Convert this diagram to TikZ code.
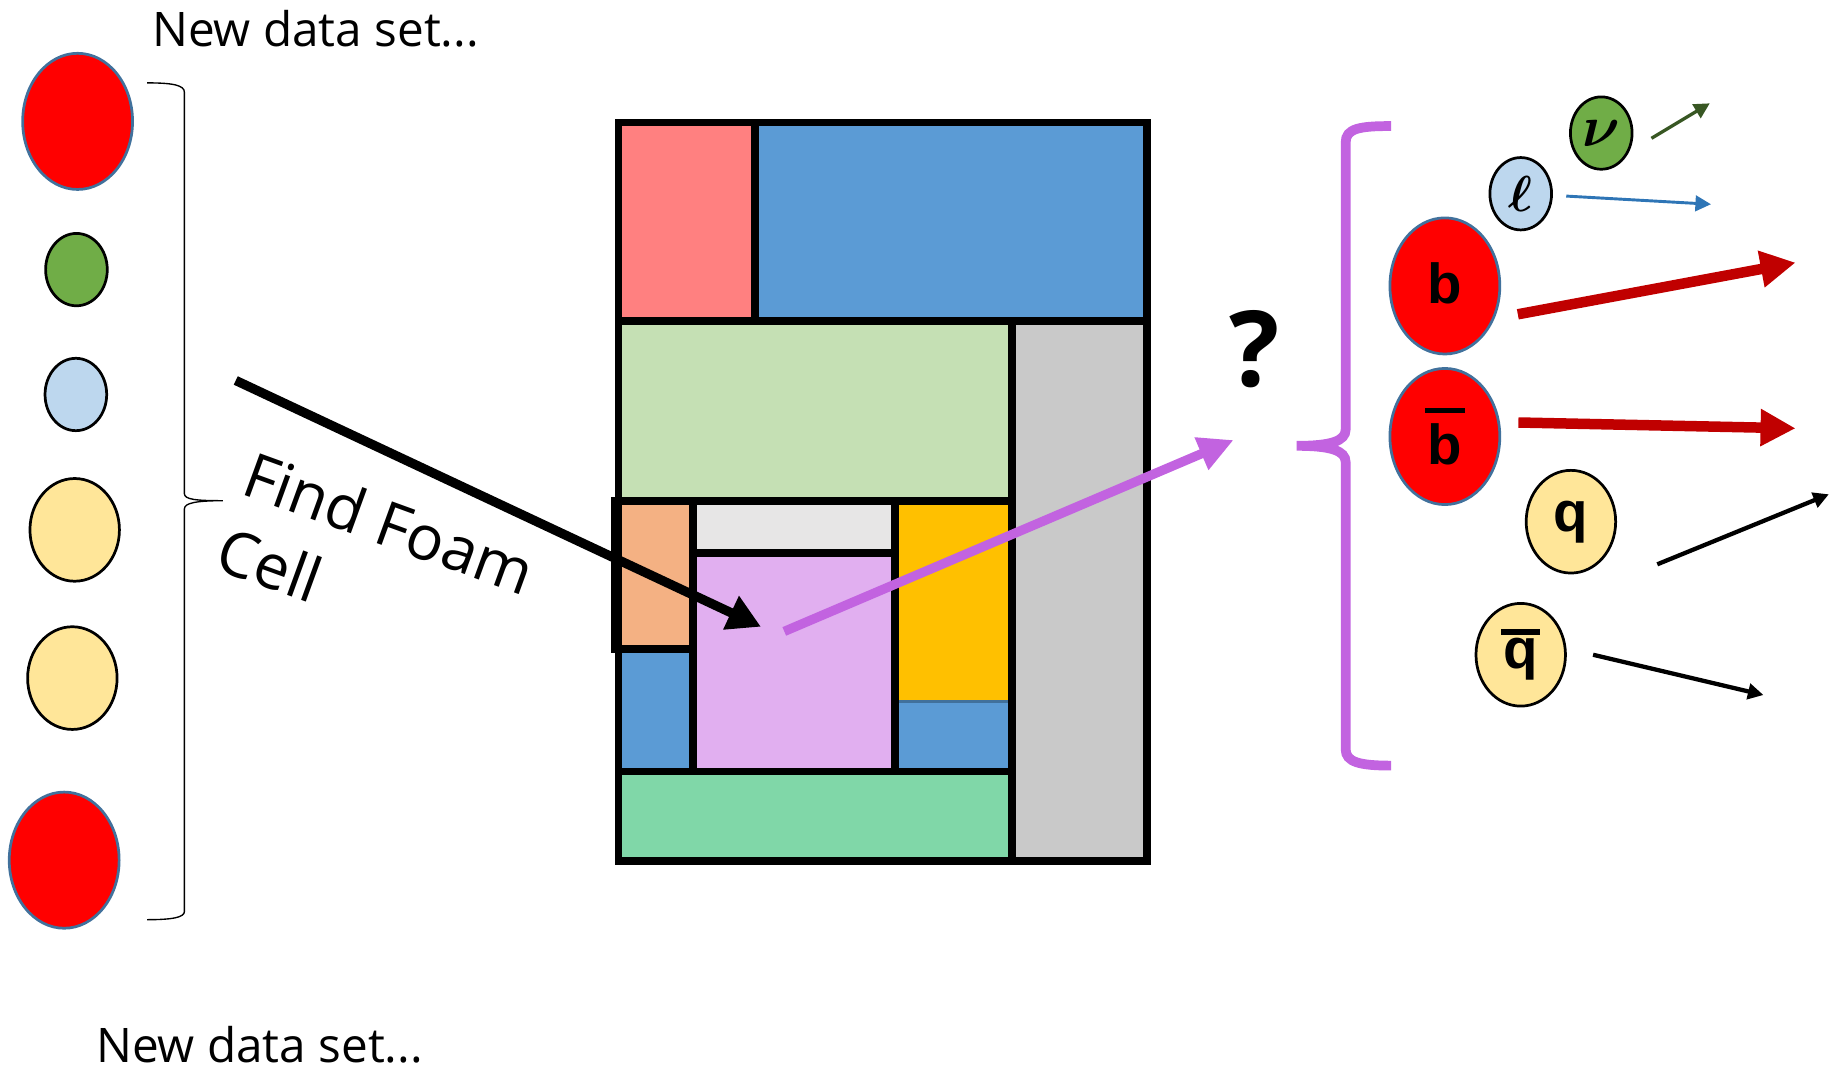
\RequirePackage{fix-cm}
\documentclass[tikz,border=0pt]{standalone}
\usepackage{fontspec}
\usepackage{bm}
\setmainfont{Open Sans}
\newfontfamily\quarkfont{Liberation Sans}
\usetikzlibrary{shapes.geometric, arrows.meta}

\definecolor{PartRed}{RGB}{255, 0, 0}
\definecolor{PartEdge}{RGB}{65, 113, 156}
\definecolor{PartGreen}{RGB}{112, 173, 71}
\definecolor{PartBlue}{RGB}{189, 215, 238}
\definecolor{PartYellow}{RGB}{255, 230, 153}
\definecolor{CellPink}{RGB}{255, 128, 128}
\definecolor{CellBlue}{RGB}{91, 155, 213}
\definecolor{CellGreen}{RGB}{197, 224, 180}
\definecolor{CellGray}{RGB}{201, 201, 201}
\definecolor{CellOrange}{RGB}{244, 177, 131}
\definecolor{CellSilver}{RGB}{231, 230, 230}
\definecolor{CellLilac}{RGB}{225, 175, 240}
\definecolor{CellGold}{RGB}{255, 192, 0}
\definecolor{CellMint}{RGB}{128, 215, 168}
\definecolor{CellEdge}{RGB}{90, 90, 90}
\definecolor{FoamPurple}{RGB}{194, 99, 224}
\definecolor{TrackRed}{RGB}{192, 0, 0}
\definecolor{TrackGreen}{RGB}{56, 87, 35}
\definecolor{TrackBlue}{RGB}{46, 117, 182}

% anti-quark bar over a letter
\newcommand{\barred}[2]{\ooalign{\hidewidth\rule[#1]{0.7em}{0.1em}\hidewidth\cr#2\cr}}

\begin{document}
\begin{tikzpicture}[x=0.6pt, y=-0.6pt,
    particle/.style={ellipse, inner sep=0pt, line width=1.4pt, draw=black},
    bigball/.style={particle, draw=PartEdge, minimum width=56.5pt, minimum height=70pt},
    smallball/.style={particle, minimum width=31.7pt, minimum height=37.2pt},
    midball/.style={particle, minimum width=46pt, minimum height=52.8pt},
    quark/.style={font=\quarkfont\bfseries\fontsize{29}{29}\selectfont},
    caption/.style={anchor=base west, inner sep=0pt, font=\fontsize{24.5}{29}\selectfont},
    cell/.style={draw=CellEdge, line width=0.6pt},
    wall/.style={line width=4pt, line cap=rect},
    track/.style={line width=2.2pt, -{Triangle[length=8pt, width=8pt]}},
    jet/.style={line width=5.4pt, TrackRed, -{Triangle[length=18pt, width=18pt]}}]

    \useasboundingbox (0,0) rectangle (1568,918);

    % Incoming data set
    \node[caption] (settop) at (130,40) {New data set...};
    \node[bigball, fill=PartRed] (ev1) at (66.5,104) {};
    \node[smallball, fill=PartGreen] (ev2) at (65.5,231) {};
    \node[smallball, fill=PartBlue] (ev3) at (65,338) {};
    \node[midball, fill=PartYellow] (ev4) at (64,454) {};
    \node[midball, fill=PartYellow] (ev5) at (62,581) {};
    \node[bigball, fill=PartRed] (ev6) at (55,737) {};
    \node[caption] (setbot) at (82,910) {New data set...};

    % Brace round the events
    \draw[line width=0.7pt] (126,71) .. controls (148,71) and (158,73) .. (158,79)
      -- (158,423) .. controls (158,428) and (168,429) .. (191,429)
      .. controls (168,429) and (158,431) .. (158,436)
      -- (158,781) .. controls (158,786) and (148,788) .. (126,788);

    % Foam cells
    \draw[cell, fill=CellPink] (530,105) rectangle (647,275);
    \draw[cell, fill=CellBlue] (647,105) rectangle (983,275);
    \draw[cell, fill=CellGreen] (530,275) rectangle (867,429);
    \draw[cell, fill=CellGray] (867,275) rectangle (983,738);
    \draw[cell, fill=CellOrange] (527,429) rectangle (594,556);
    \draw[cell, fill=CellBlue] (530,556) rectangle (594,661);
    \draw[cell, fill=CellSilver] (594,429) rectangle (767,474);
    \draw[cell, fill=CellLilac] (594,474) rectangle (767,661);
    \draw[cell, fill=CellGold] (767,429) rectangle (867,601);
    \draw[draw=PartEdge, line width=1.2pt, fill=CellBlue] (767,601) rectangle (867,661);
    \draw[cell, fill=CellMint] (530,661) rectangle (867,738);

    % Cell walls
    \draw[wall] (530,105) rectangle (983,738);
    \draw[wall] (530,275) -- (983,275);
    \draw[wall] (647,105) -- (647,275);
    \draw[wall] (867,275) -- (867,738);
    \draw[wall] (530,429) -- (867,429);
    \draw[wall] (527,429) rectangle (594,556);
    \draw[wall] (594,429) -- (594,661);
    \draw[wall] (767,429) -- (767,661);
    \draw[wall] (594,474) -- (767,474);
    \draw[wall] (530,661) -- (867,661);

    % Lookup of the cell
    \node[rotate=-20, anchor=north west, inner sep=0pt, align=left,
      font=\fontsize{32}{41}\selectfont] (find) at (219,384) {Find Foam\\Cell};
    \coordinate (find-s) at (202,326);
    \coordinate (find-e) at (652,537);
    \draw[line width=4.8pt, -{Triangle[length=17pt, width=18pt]}] (find-s) -- (find-e);

    \coordinate (draw-s) at (672,541);
    \coordinate (draw-e) at (1057,377);
    \draw[line width=4.8pt, FoamPurple, -{Triangle[length=18pt, width=17pt]}] (draw-s) -- (draw-e);

    \node[inner sep=0pt, font=\bfseries\fontsize{54}{54}\selectfont] (what) at (1075,299) {?};

    % Brace round the final state
    \draw[line width=5pt, FoamPurple] (1192,108) .. controls (1165,108) and (1153,110) .. (1153,122)
      -- (1153,368) .. controls (1153,378) and (1140,382) .. (1111,382)
      .. controls (1140,382) and (1153,386) .. (1153,396)
      -- (1153,642) .. controls (1153,653) and (1165,656) .. (1192,656);

    % Final state particles
    \node[smallball, fill=PartGreen, font=\fontsize{30}{30}\selectfont] (nu) at (1372,114) {$\bm{\nu}$};
    \node[smallball, fill=PartBlue, font=\fontsize{26}{26}\selectfont] (lep) at (1303,166) {$\bm{\ell}$};
    \node[bigball, fill=PartRed, quark] (b) at (1238,245) {\raisebox{3pt}{b}};
    \node[bigball, fill=PartRed, quark] (bbar) at (1238,374) {\barred{0.91em}{b}};
    \node[midball, fill=PartYellow, quark] (q) at (1346,447) {q};
    \node[midball, fill=PartYellow, quark] (qbar) at (1303,561) {\barred{0.6em}{q}};

    \coordinate (nu-s) at (1415,118.5);
    \coordinate (nu-e) at (1465,88.5);
    \coordinate (lep-s) at (1342,168);
    \coordinate (lep-e) at (1466,175);
    \coordinate (b-s) at (1300.5,269.3);
    \coordinate (b-e) at (1538.5,225);
    \coordinate (bbar-s) at (1301,362);
    \coordinate (bbar-e) at (1538.5,367);
    \coordinate (q-s) at (1420,483.5);
    \coordinate (q-e) at (1567,423.5);
    \coordinate (qbar-s) at (1365,561);
    \coordinate (qbar-e) at (1511,595.5);

    \draw[track, line width=1.7pt, TrackGreen] (nu-s) -- (nu-e);
    \draw[track, line width=1.5pt, TrackBlue] (lep-s) -- (lep-e);
    \draw[jet] (b-s) -- (b-e);
    \draw[jet] (bbar-s) -- (bbar-e);
    \draw[track] (q-s) -- (q-e);
    \draw[track] (qbar-s) -- (qbar-e);
  \end{tikzpicture}
\end{document}
